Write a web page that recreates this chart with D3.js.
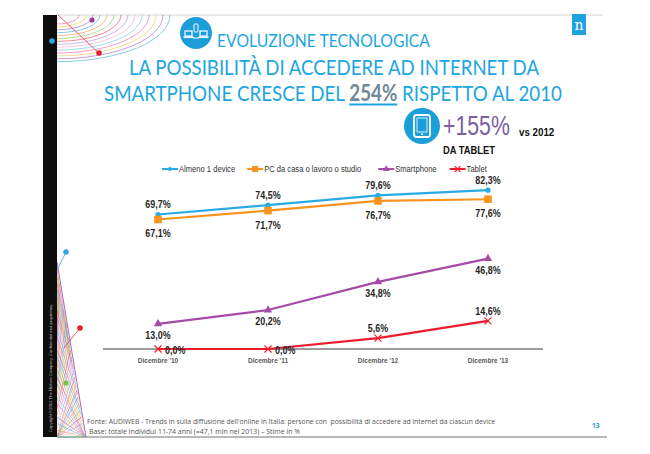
<!DOCTYPE html>
<html><head><meta charset="utf-8">
<script src="https://cdn.jsdelivr.net/npm/d3@7"></script>
<style>body{margin:0;background:#fff}svg{display:block}</style>
</head><body>
<svg id="c" width="650" height="454"></svg>
<script>
// ---------- DATA ----------
const categories = ["Dicembre '10", "Dicembre '11", "Dicembre '12", "Dicembre '13"];
const seriesNames = ["Almeno 1 device", "PC da casa o lavoro o studio", "Smartphone", "Tablet"];
const almeno = [69.7, 74.5, 79.6, 82.3];
const pc = [67.1, 71.7, 76.7, 77.6];
const smartphone = [13.0, 20.2, 34.8, 46.8];
const tablet = [0.0, 0.0, 5.6, 14.6];
const titleText = "EVOLUZIONE TECNOLOGICA";
const headline1 = "LA POSSIBILITÀ DI ACCEDERE AD INTERNET DA";
const headline2 = ["SMARTPHONE CRESCE DEL ", "254%", " RISPETTO AL 2010"];
const tabletStat = "+155%", tabletVs = "vs 2012", tabletLabel = "DA TABLET";
const footer1 = "Fonte: AUDIWEB - Trends in sulla diffusione dell'online in Italia: persone con  possibilità di accedere ad internet da ciascun device";
const footer2 = "Base: totale individui 11-74 anni (=47,1 mln nel 2013) – Stime in %";
const pageNum = "13";
const copyright = "Copyright ©2012 The Nielsen Company. Confidential and proprietary.";

const svg = d3.select("#c");
const it = d3.formatLocale({decimal: ",", thousands: ".", grouping: [3], currency: ["€", ""]});
const fmt = v => it.format(".1f")(v) + "%";
const armo = "Liberation Sans, Arial, sans-serif";
function ctext(parent, tx, ty, str, f, opts) {
  const t = parent.append("text").attr("transform", `translate(${tx},${ty}) scale(${f},1)`)
    .attr("font-family", opts.family || armo).attr("font-size", opts.size)
    .attr("font-weight", opts.weight || "normal").attr("fill", opts.fill || "#222")
    .attr("text-anchor", opts.anchor || "start").style("white-space", "pre").text(str);
  return t;
}

// ---------- SLIDE FRAME / DECORATION ----------
const deco = svg.append("g");
const decoColors = ["#e7589b", "#f5c242", "#9b59b6", "#2fa8e0", "#f39237", "#7cc242", "#e4344a", "#b07cd0", "#f2a3c6", "#5bc0de"];
deco.append("line").attr("x1", 57).attr("x2", 603).attr("y1", 15).attr("y2", 15).attr("stroke", "#d5d5d5").attr("stroke-width", 1);
deco.append("line").attr("x1", 57).attr("x2", 607).attr("y1", 437).attr("y2", 437).attr("stroke", "#a0a0a0").attr("stroke-width", 1.5);
d3.range(14).forEach(i => {
  const rx = 22 + i * 7, ry = 9 + i * 2.9;
  deco.append("path").attr("d", `M57 ${15 + ry} A ${rx} ${ry} 0 0 0 ${57 + rx} 15`)
    .attr("fill", "none").attr("stroke", decoColors[i % decoColors.length]).attr("stroke-width", 0.7).attr("opacity", 0.85);
});
deco.append("line").attr("x1", 58).attr("y1", 15).attr("x2", 99).attr("y2", 53).attr("stroke", "#e4344a").attr("stroke-width", 0.8);
deco.append("circle").attr("cx", 92).attr("cy", 20).attr("r", 2.6).attr("fill", "#a0359b");
deco.append("circle").attr("cx", 99).attr("cy", 53).attr("r", 2.8).attr("fill", "#e4202e");
const H = s => [57 + 28 * s, 270 + 167 * s], L = t => [57, 270 + 167 * t];
d3.range(0, 1.001, 0.04).forEach((t, i) => {
  const a = L(t), b = H(Math.min(1, t + 0.35)), c = H(t), d = L(Math.min(1, t + 0.35));
  deco.append("line").attr("x1", a[0]).attr("y1", a[1]).attr("x2", b[0]).attr("y2", b[1]).attr("stroke", decoColors[i % 10]).attr("stroke-width", 0.5);
  deco.append("line").attr("x1", c[0]).attr("y1", c[1]).attr("x2", d[0]).attr("y2", d[1]).attr("stroke", decoColors[(i + 4) % 10]).attr("stroke-width", 0.5);
});
deco.append("line").attr("x1", 57).attr("y1", 262).attr("x2", 86).attr("y2", 437).attr("stroke", "#8e44ad").attr("stroke-width", 0.8);
deco.append("line").attr("x1", 57).attr("y1", 270).attr("x2", 66).attr("y2", 252).attr("stroke", "#2fa8e0").attr("stroke-width", 0.8);
deco.append("line").attr("x1", 64).attr("y1", 348).attr("x2", 80).attr("y2", 328).attr("stroke", "#e4344a").attr("stroke-width", 0.8);
deco.append("circle").attr("cx", 66).attr("cy", 252).attr("r", 2.8).attr("fill", "#2fa8e0");
deco.append("circle").attr("cx", 80).attr("cy", 328).attr("r", 2.8).attr("fill", "#e4202e");
deco.append("circle").attr("cx", 66).attr("cy", 383).attr("r", 2.6).attr("fill", "#7cc242");
deco.append("rect").attr("x", 43).attr("y", 15).attr("width", 14).attr("height", 422).attr("fill", "#0d0d0d");
deco.append("circle").attr("cx", 52).attr("cy", 41).attr("r", 2.8).attr("fill", "#2fa8e0");
deco.append("text").attr("transform", "translate(51.5,432) rotate(-90)").attr("font-family", armo)
  .attr("font-size", 4.2).attr("fill", "#bbb").text(copyright);
deco.append("rect").attr("x", 572).attr("y", 14).attr("width", 14).attr("height", 21).attr("fill", "#1fa3dc");
deco.append("text").attr("x", 579).attr("y", 30).attr("text-anchor", "middle").attr("font-family", "DejaVu Serif, serif")
  .attr("font-size", 14).attr("fill", "#fff").text("n");

// ---------- TITLES ----------
const blue = "#1ba6e0";
const ic = svg.append("g").attr("transform", "translate(196,33)");
ic.append("circle").attr("r", 16).attr("fill", "#1c9fd9");
ic.append("rect").attr("x", -11).attr("y", -2).attr("width", 7).attr("height", 5).attr("fill", "none").attr("stroke", "#fff").attr("stroke-width", 1.2);
ic.append("rect").attr("x", -12.5).attr("y", 3.5).attr("width", 10).attr("height", 1.5).attr("fill", "#fff");
ic.append("rect").attr("x", 4).attr("y", -2).attr("width", 7).attr("height", 5).attr("fill", "none").attr("stroke", "#fff").attr("stroke-width", 1.2);
ic.append("rect").attr("x", 2.5).attr("y", 3.5).attr("width", 10).attr("height", 1.5).attr("fill", "#fff");
ic.append("rect").attr("x", -2).attr("y", -9).attr("width", 4).attr("height", 8).attr("rx", 1).attr("fill", "none").attr("stroke", "#fff").attr("stroke-width", 1);
ic.append("line").attr("x1", -3).attr("x2", 3).attr("y1", 5).attr("y2", 5).attr("stroke", "#fff").attr("stroke-width", 1);

const fam = "Lato, Open Sans, sans-serif";
svg.append("text").attr("x", 217).attr("y", 47).attr("font-family", fam)
  .attr("font-size", 17).attr("fill", blue).attr("textLength", 213).attr("lengthAdjust", "spacingAndGlyphs").text(titleText);
svg.append("text").attr("x", 129).attr("y", 75).attr("font-family", fam)
  .attr("font-size", 22).attr("fill", blue).attr("textLength", 410).attr("lengthAdjust", "spacingAndGlyphs").text(headline1);
const hg = svg.append("g");
const parts = headline2.map((s, i) => hg.append("text").attr("font-family", fam).attr("font-size", 22)
  .attr("font-weight", i === 1 ? "bold" : "normal").attr("fill", i === 1 ? "#6f8797" : blue)
  .style("white-space", "pre").text(s));
const ws = parts.map(p => p.node().getComputedTextLength());
const hf = 458 / d3.sum(ws);
let hx = 104;
parts.forEach((p, i) => {
  p.attr("transform", `translate(${hx},101) scale(${hf},1)`);
  if (i === 1) svg.append("line").attr("x1", hx).attr("x2", hx + ws[1] * hf).attr("y1", 104.5).attr("y2", 104.5).attr("stroke", blue).attr("stroke-width", 1.8);
  hx += ws[i] * hf;
});

// tablet stat
const tg = svg.append("g").attr("transform", "translate(422,126)");
tg.append("circle").attr("r", 18).attr("fill", "#1c9fd9");
tg.append("rect").attr("x", -8).attr("y", -11).attr("width", 16).attr("height", 22).attr("rx", 2.5).attr("fill", "none").attr("stroke", "#fff").attr("stroke-width", 1.8);
tg.append("rect").attr("x", -5).attr("y", -8).attr("width", 10).attr("height", 14).attr("fill", "none").attr("stroke", "#fff").attr("stroke-width", 0.8);
tg.append("rect").attr("x", -1).attr("y", 7.5).attr("width", 2).attr("height", 1.5).attr("fill", "#fff");
ctext(svg, 443, 135, tabletStat, 0.76, {size: 28, fill: "#7b5ea6"});
ctext(svg, 519, 136, tabletVs, 0.85, {size: 11.5, weight: "bold", fill: "#111"});
ctext(svg, 443, 154, tabletLabel, 0.85, {size: 11, weight: "bold", fill: "#111"});

// ---------- CHART ----------
const x = d3.scaleBand().domain(categories).range([103, 543]);
const y = d3.scaleLinear().domain([0, 100]).range([349, 156]);
const cx = c => x(c) + x.bandwidth() / 2;

const series = [
  {name: seriesNames[0], values: almeno, color: "#2aaae2", marker: "diamond", label: "above"},
  {name: seriesNames[1], values: pc, color: "#f7941e", marker: "square", label: "below"},
  {name: seriesNames[2], values: smartphone, color: "#a54aa6", marker: "triangle", label: "below"},
  {name: seriesNames[3], values: tablet, color: "#ec1c2e", marker: "cross", label: "tablet"}
];
function drawMarker(g, type, color, k) {
  k = k || 1;
  if (type === "diamond") g.append("circle").attr("r", 2.6 * k).attr("fill", color);
  else if (type === "square") g.append("rect").attr("x", -3.8 * k).attr("y", -3.8 * k).attr("width", 7.6 * k).attr("height", 7.6 * k).attr("fill", color);
  else if (type === "triangle") g.append("path").attr("d", d3.symbol(d3.symbolTriangle, 30 * k * k)()).attr("fill", color);
  else if (type === "cross") g.append("path").attr("d", `M${-3.5 * k},${-3.5 * k}L${3.5 * k},${3.5 * k}M${-3.5 * k},${3.5 * k}L${3.5 * k},${-3.5 * k}`).attr("stroke", color).attr("stroke-width", 1.2);
}

const axis = svg.append("g").attr("transform", `translate(0,${y(0)})`).call(d3.axisBottom(x).tickSize(0).tickPadding(8));
axis.select(".domain").attr("stroke", "#3a3a3a").attr("stroke-width", 1).attr("d", `M103,0H543`);
axis.selectAll("text").attr("font-family", armo).attr("font-weight", "bold")
  .attr("font-size", 8).attr("fill", "#5a5a5a").attr("transform", "scale(0.82,1)");

const line = d3.line().x((d, i) => cx(categories[i])).y(d => y(d));
series.forEach(s => {
  svg.append("path").datum(s.values).attr("d", line).attr("fill", "none").attr("stroke", s.color).attr("stroke-width", 2.2);
  s.values.forEach((v, i) => {
    const g = svg.append("g").attr("transform", `translate(${cx(categories[i])},${y(v)})`);
    drawMarker(g, s.marker, s.color);
  });
});
series.forEach(s => {
  s.values.forEach((v, i) => {
    const px = cx(categories[i]), py = y(v);
    let tx = px, ty, anchor = "middle";
    if (s.label === "above") ty = py - 6;
    else if (s.label === "below") ty = py + (s.marker === "square" ? 18 : 15);
    else { if (v === 0) { tx = px + 7; ty = py + 5; anchor = "start"; } else ty = py - 6; }
    ctext(svg, tx, ty, fmt(v), 0.85, {size: 10.5, weight: "bold", fill: "#262626", anchor});
  });
});

// legend
let lx = 162;
const ly = 169;
const gaps = [12, 17, 13, 0];
series.forEach((s, i) => {
  const g = svg.append("g");
  g.append("line").attr("x1", lx).attr("x2", lx + 16).attr("y1", ly).attr("y2", ly).attr("stroke", s.color).attr("stroke-width", 2);
  const m = g.append("g").attr("transform", `translate(${lx + 8},${ly})`);
  drawMarker(m, s.marker, s.color, 0.8);
  const t = ctext(g, lx + 17, ly + 3.3, s.name, 0.8, {size: 9.5, fill: "#333"});
  lx += 17 + t.node().getComputedTextLength() * 0.8 + gaps[i];
});

// ---------- FOOTER ----------
svg.append("text").attr("x", 87).attr("y", 424).attr("font-family", "Open Sans, sans-serif").attr("font-size", 7)
  .attr("fill", "#555").attr("textLength", 408).attr("lengthAdjust", "spacingAndGlyphs").style("white-space", "pre").text(footer1);
svg.append("text").attr("x", 89).attr("y", 434).attr("font-family", "Open Sans, sans-serif").attr("font-size", 7)
  .attr("fill", "#555").attr("textLength", 211).attr("lengthAdjust", "spacingAndGlyphs").text(footer2);
svg.append("text").attr("x", 592).attr("y", 428).attr("font-family", "Open Sans, sans-serif").attr("font-size", 6.5)
  .attr("font-weight", "bold").attr("fill", "#1c9fd9").text(pageNum);
</script>
</body></html>
